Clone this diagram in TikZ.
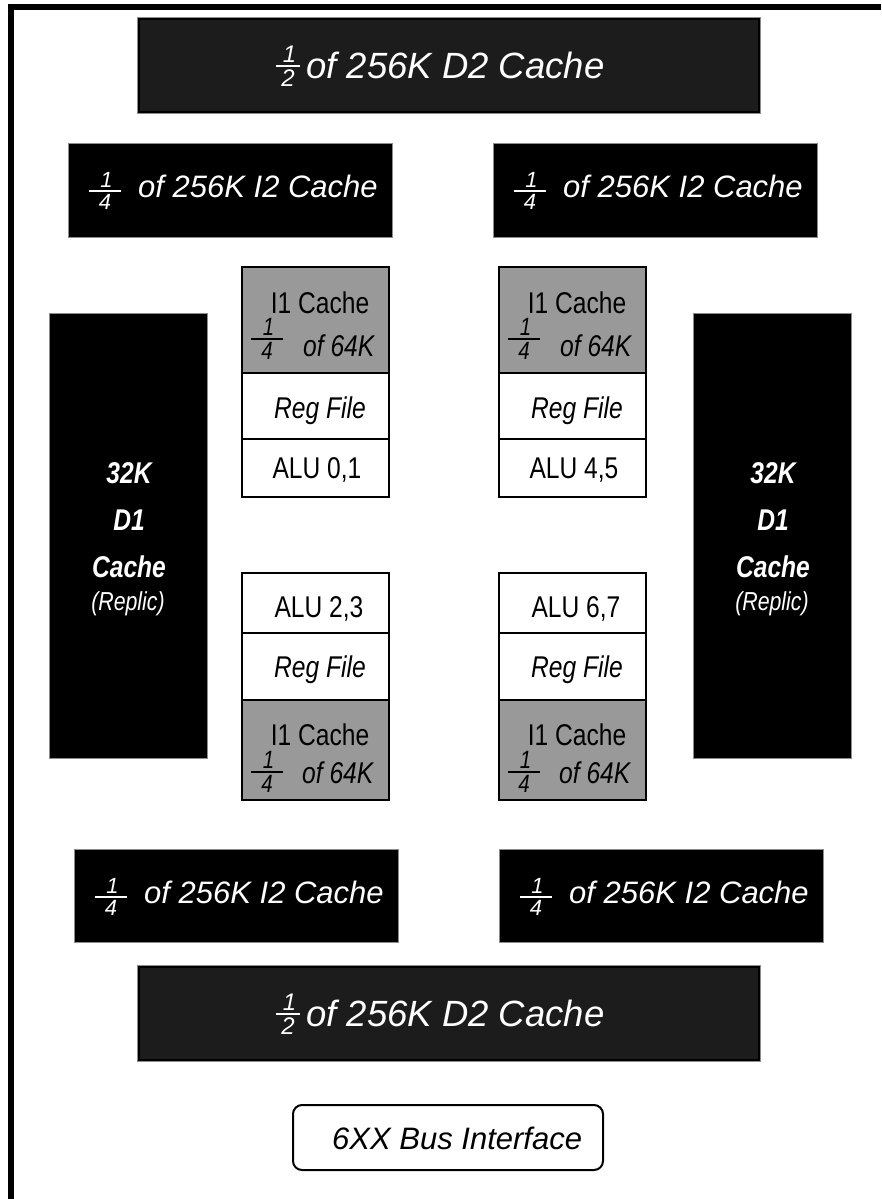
\documentclass[tikz,border=0pt]{standalone}
\usepackage{fontspec}
\setmainfont{Liberation Sans}
\newfontfamily\narrowfont{Liberation Sans}[FakeStretch=0.82]
\newcommand\plainfam{\rmfamily}
\definecolor{dtwo}{HTML}{1C1C1C}
\definecolor{coregray}{HTML}{999999}
\definecolor{edge}{HTML}{8C8C8C}
\tikzset{
  blackbox/.style={draw=edge, line width=1, fill=black, inner sep=0, outer sep=0},
  d2box/.style={fill=dtwo, draw=black, line width=2, preaction={draw=edge, line width=3.5}, inner sep=0, outer sep=0},
  bigtxt/.style={inner sep=0, anchor=base west, font=\fontsize{31}{36}\selectfont\itshape},
  d2txt/.style={inner sep=0, anchor=base west, font=\fontsize{36.5}{40}\selectfont\itshape},
  fractxt/.style={inner sep=0},
  grayrow/.style={draw=black, line width=1.5, fill=coregray, minimum width=147pt, inner sep=0, outer sep=0},
  whiterow/.style={draw=black, line width=1.5, fill=white, minimum width=147pt, inner sep=0, outer sep=0},
  coreframe/.style={line width=2.5},
  coretxt/.style={inner sep=0, anchor=base, font=\narrowfont\fontsize{30}{34}\selectfont},
  coreit/.style={inner sep=0, anchor=base, font=\narrowfont\fontsize{30}{34}\selectfont\itshape},
  d1bold/.style={inner sep=0, anchor=base, text=white, font=\narrowfont\fontsize{30}{34}\selectfont\bfseries\itshape},
  d1small/.style={inner sep=0, anchor=base, text=white, font=\narrowfont\fontsize{26}{30}\selectfont\itshape},
  busbox/.style={draw=black, line width=2, rounded corners=9pt, fill=white, inner sep=0, outer sep=0},
}
% #1 name, #2 x, #3 bar y, #4 numerator, #5 denominator, #6 half width, #7 font size, #8 family
\newcommand\fracat[8]{%
  \draw[line width=1.3] (#2-#6,#3) -- (#2+#6,#3);
  \node[fractxt, anchor=south, font=#8\fontsize{#7}{#7}\selectfont\itshape] (#1n) at (#2+1.5,#3-3) {#4};
  \node[fractxt, anchor=north, font=#8\fontsize{#7}{#7}\selectfont\itshape] (#1d) at (#2,#3+3.5) {#5};
}
% core with I1 cache on top
\newcommand\coretop[4]{%
  \node[grayrow, minimum height=106pt, anchor=north west] (#1g) at (#2,#3) {};
  \node[whiterow, minimum height=66pt, anchor=north] (#1r) at (#1g.south) {};
  \node[whiterow, minimum height=58pt, anchor=north] (#1a) at (#1r.south) {};
  \draw[coreframe] (#1g.north west) rectangle (#1a.south east);
  \node[coretxt] (#1t) at (#2+78,#3+46) {I1 Cache};
  \fracat{#1f}{#2+25}{#3+72}{1}{4}{16}{25}{\narrowfont}
  \node[coreit, anchor=base west] (#1o) at (#2+61,#3+89) {of 64K};
  \node[coreit] (#1rt) at (#2+78,#3+151) {Reg File};
  \node[coretxt] (#1at) at (#2+75,#3+211) {#4};
}
% core with I1 cache at the bottom
\newcommand\corebot[4]{%
  \node[whiterow, minimum height=60pt, anchor=north west] (#1a) at (#2,#3) {};
  \node[whiterow, minimum height=67pt, anchor=north] (#1r) at (#1a.south) {};
  \node[grayrow, minimum height=100pt, anchor=north] (#1g) at (#1r.south) {};
  \draw[coreframe] (#1a.north west) rectangle (#1g.south east);
  \node[coretxt] (#1at) at (#2+77,#3+44) {#4};
  \node[coreit] (#1rt) at (#2+78,#3+104) {Reg File};
  \node[coretxt] (#1t) at (#2+78,#3+172) {I1 Cache};
  \fracat{#1f}{#2+25}{#3+199}{1}{4}{16}{25}{\narrowfont}
  \node[coreit, anchor=base west] (#1o) at (#2+60,#3+210) {of 64K};
}
\begin{document}
\begin{tikzpicture}[x=1pt,y=-1pt]
\useasboundingbox (0,0) rectangle (881,1199);
\fill[white] (0,0) rectangle (881,1199);
\draw[line width=6, line join=miter] (11,1199) -- (11,7) -- (881,7);

% top D2
\node[d2box, minimum width=620pt, minimum height=93pt] (d2t) at (449,65.5) {};
\begin{scope}[white]
  \fracat{d2tf}{288}{66}{1}{2}{12}{24}{\plainfam}
  \node[d2txt] (d2tt) at (306,78) {of 256K D2 Cache};
\end{scope}

% I2 top
\node[blackbox, minimum width=324pt, minimum height=94pt] (i2tl) at (230,190) {};
\node[blackbox, minimum width=324pt, minimum height=94pt] (i2tr) at (655,190) {};
\begin{scope}[white]
  \fracat{i2tlf}{105}{191}{1}{4}{16}{22}{\plainfam}
  \node[bigtxt] (i2tlt) at (138,197) {of 256K I2 Cache};
  \fracat{i2trf}{530}{191}{1}{4}{16}{22}{\plainfam}
  \node[bigtxt] (i2trt) at (563,197) {of 256K I2 Cache};
\end{scope}

% D1 caches
\node[blackbox, minimum width=158pt, minimum height=445pt] (d1l) at (128,535.5) {};
\node[blackbox, minimum width=158pt, minimum height=445pt] (d1r) at (772,535.5) {};
\node[d1bold] (d1la) at (129,483) {32K};
\node[d1bold] (d1lb) at (129,530) {D1};
\node[d1bold] (d1lc) at (129,577) {Cache};
\node[d1small] (d1ld) at (128,610) {(Replic)};
\node[d1bold] (d1ra) at (773,483) {32K};
\node[d1bold] (d1rb) at (773,530) {D1};
\node[d1bold] (d1rc) at (773,577) {Cache};
\node[d1small] (d1rd) at (772,610) {(Replic)};

% cores
\coretop{ctl}{242}{267}{ALU 0,1}
\coretop{ctr}{499}{267}{ALU 4,5}
\corebot{cbl}{242}{573}{ALU 2,3}
\corebot{cbr}{499}{573}{ALU 6,7}

% I2 bottom
\node[blackbox, minimum width=324pt, minimum height=93pt] (i2bl) at (236,895.5) {};
\node[blackbox, minimum width=324pt, minimum height=93pt] (i2br) at (661,895.5) {};
\begin{scope}[white]
  \fracat{i2blf}{111}{897}{1}{4}{16}{22}{\plainfam}
  \node[bigtxt] (i2blt) at (144,903) {of 256K I2 Cache};
  \fracat{i2brf}{536}{897}{1}{4}{16}{22}{\plainfam}
  \node[bigtxt] (i2brt) at (569,903) {of 256K I2 Cache};
\end{scope}

% bottom D2
\node[d2box, minimum width=620pt, minimum height=93pt] (d2b) at (449,1013.5) {};
\begin{scope}[white]
  \fracat{d2bf}{288}{1014}{1}{2}{12}{24}{\plainfam}
  \node[d2txt] (d2bt) at (306,1026) {of 256K D2 Cache};
\end{scope}

% bus interface
\node[busbox, minimum width=310pt, minimum height=65pt] (bus) at (448,1137.5) {};
\node[bigtxt] (bust) at (332,1149) {6XX Bus Interface};
\end{tikzpicture}
\end{document}
